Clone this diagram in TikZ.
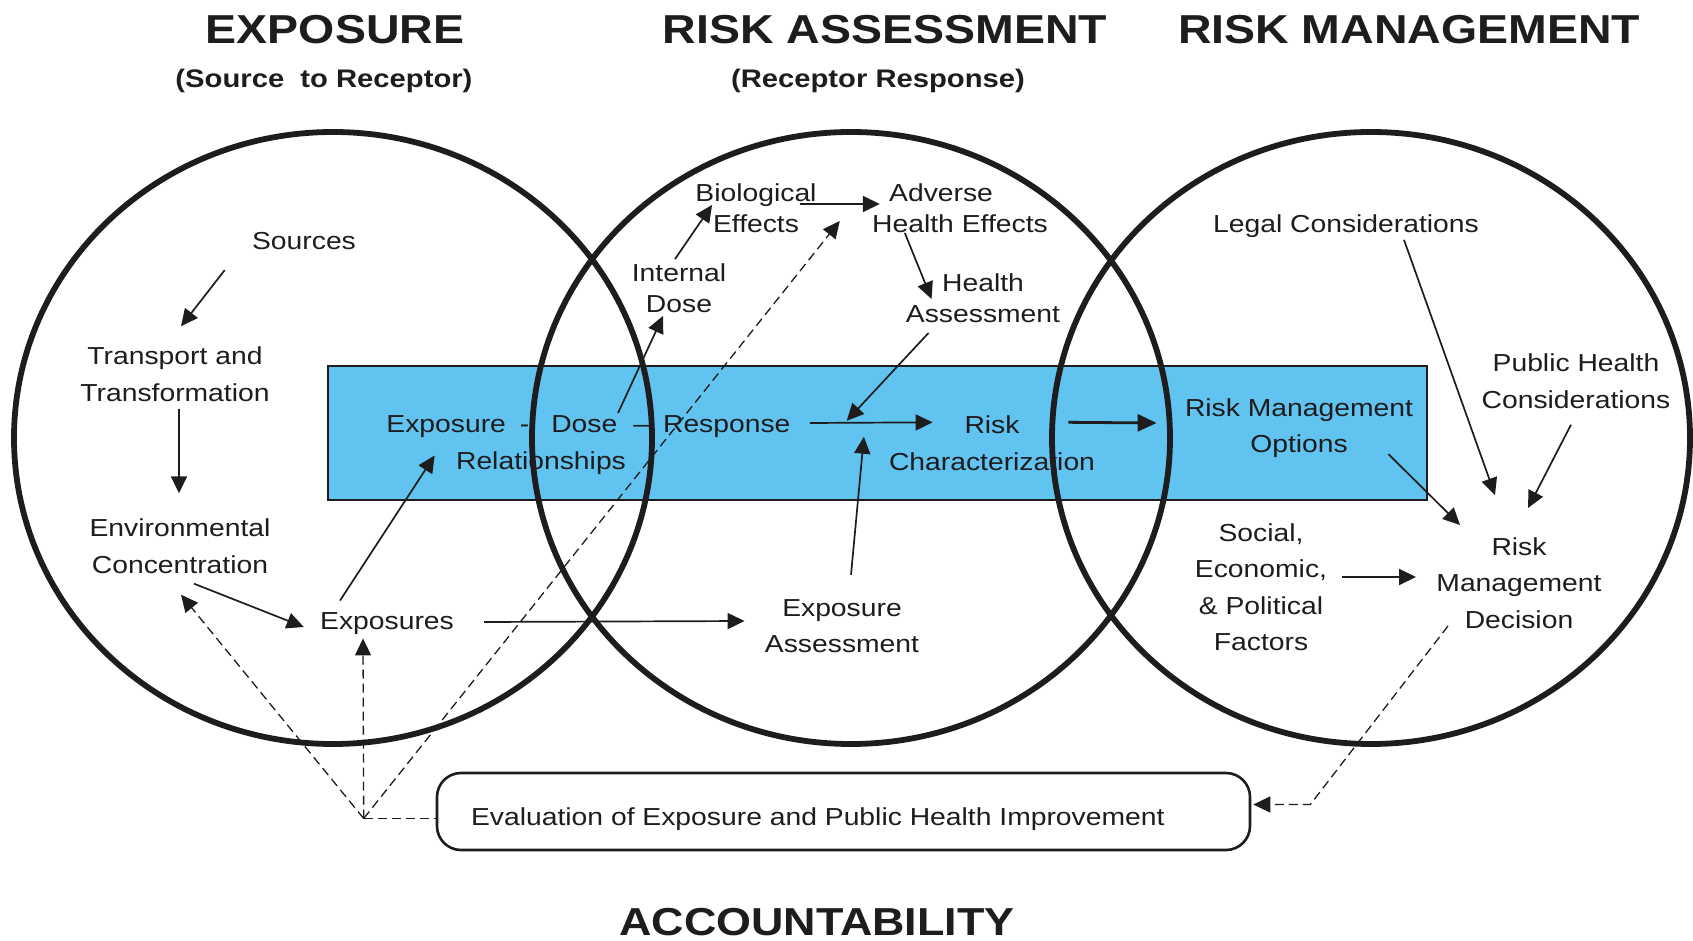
\documentclass[tikz,border=0pt]{standalone}
\usepackage{fontspec}
\newfontfamily\diagfont{Liberation Sans}[FakeStretch=1.15]
\usepackage{xcolor}
\usepackage{tikz}
\usetikzlibrary{arrows.meta, calc, positioning}

\definecolor{ink}{RGB}{30,28,29}
\definecolor{panel}{RGB}{96,195,240}

\tikzset{
  txt/.style={font=\diagfont\fontsize{12.3}{18.25}\selectfont, align=center, inner sep=0pt, text=ink},
  txtc/.style={txt, font=\diagfont\fontsize{12.3}{15.5}\selectfont},
  head/.style={font=\diagfont\bfseries\fontsize{20.2}{24}\selectfont, inner sep=0pt, text=ink},
  subhead/.style={font=\diagfont\bfseries\fontsize{12.7}{16}\selectfont, inner sep=0pt, text=ink},
  ring/.style={draw=ink, line width=2.9pt},
  flow/.style={->, draw=ink, line width=0.85pt},
  back/.style={->, draw=ink, line width=0.65pt, dash pattern=on 4.5pt off 2.5pt},
}

\begin{document}
\begin{tikzpicture}[x=0.5pt, y=-0.5pt, >={Triangle[length=8.5pt,width=8pt]}]

    \useasboundingbox (0,0) rectangle (1693,941);

    % =================================================================
    % 1. BLUE BAND AND THE THREE RINGS
    % =================================================================
    \fill[panel, draw=ink, line width=1.2pt] (328,366) rectangle (1427,500);

    \coordinate (cExp) at (333,438);
    \coordinate (cAss) at (851,438);
    \coordinate (cMan) at (1371,438);
    \draw[ring] (cExp) ellipse [x radius=319, y radius=306];
    \draw[ring] (cAss) ellipse [x radius=319, y radius=306];
    \draw[ring] (cMan) ellipse [x radius=319, y radius=306];

    % =================================================================
    % 2. HEADINGS
    % =================================================================
    \node[head] (tExp) at (335,30) {EXPOSURE};
    \node[subhead] (sExp) at (324,81) {(Source\ \ to Receptor)};
    \node[head] (tAss) at (885,30) {RISK ASSESSMENT};
    \node[subhead] (sAss) at (878,81) {(Receptor Response)};
    \node[head] (tMan) at (1409,30) {RISK MANAGEMENT};
    \node[head, font=\diagfont\bfseries\fontsize{19.5}{23}\selectfont] (tAcc) at (817,922) {ACCOUNTABILITY};

    % =================================================================
    % 3. LABELS
    % =================================================================
    % source to receptor
    \node[txt] (src) at (304,241) {Sources};
    \node[txt] (trans) at (175,374) {Transport and\\Transformation};
    \node[txt] (env) at (180,546) {Environmental\\Concentration};
    \node[txt] (expo) at (387,624) {Exposures};

    % receptor response
    \node[txt, anchor=west] (edr) at (386,426.5)
        {Exposure\hspace{7pt}-\hspace{11pt}Dose\hspace{8pt}\textendash\hspace{7pt}Response};
    \node[txt] (rel) at (541,463.5) {Relationships};
    \node[txtc] (idose) at (679,288) {Internal\\Dose};
    \node[txtc] (bio) at (756,208) {Biological\\Effects};
    \node[txtc, align=left] (adv) at (960,208) {\hspace*{8.5pt}Adverse\\Health Effects};
    \node[txtc] (hass) at (983,298) {Health\\Assessment};
    \node[txt] (riskc) at (992,443) {Risk\\Characterization};
    \node[txt] (expa) at (842,626) {Exposure\\Assessment};

    % management
    \node[txt] (legal) at (1346,226) {Legal Considerations};
    \node[txt] (pubh) at (1576,381) {Public Health\\Considerations};
    \node[txt] (rmo) at (1299,428) {Risk Management\\Options};
    \node[txt] (soc) at (1261,587) {Social,\\Economic,\\\& Political\\Factors};
    \node[txt] (rmd) at (1519,583) {Risk\\Management\\Decision};

    % evaluation box
    \node[draw=ink, line width=1.3pt, rounded corners=12pt,
          minimum width=406.5pt, minimum height=38.5pt, inner sep=0pt] (eval) at (843.5,811.5) {};
    \node[txt, anchor=west] (evaltxt) at ([shift={(35,8)}]eval.west)
        {Evaluation of Exposure and Public Health Improvement};

    % =================================================================
    % 4. SOLID ARROWS
    % =================================================================
    \draw[flow] ([shift={(-27,20)}]src.south west) -- ([shift={(6,-20)}]trans.north);
    \draw[flow] ([shift={(4,7)}]trans.south) -- ([shift={(-1,-25)}]env.north);
    \draw[flow] ([shift={(14,10)}]env.south) -- ([shift={(-16,3)}]expo.west);
    \draw[flow] ([shift={(-47,-12)}]expo.north) -- ([shift={(-21,-8)}]rel.west);
    \draw[flow] ([shift={(30,-2)}]expo.east) -- ([shift={(-20,-5)}]expa.west);

    \draw[flow] ([shift={(232,-2)}]edr.north west) -- ([shift={(-16,3)}]idose.south);
    \draw[flow] ([shift={(-4,-4)}]idose.north) -- ([shift={(17,-3)}]bio.west);
    \draw[flow] ([shift={(-17,-4)}]bio.east) -- ([shift={(8,-4)}]adv.west);
    \draw[flow] ([shift={(33,0)}]adv.south west) -- ([shift={(26,26)}]hass.north west);

    \draw[flow] ([shift={(19,-3.5)}]edr.east) --
        coordinate[pos=0.3] (rtop) coordinate[pos=0.44] (rbot)
        ([shift={(44,7)}]riskc.north west);
    \draw[flow] ([shift={(23,10)}]hass.south west) -- ([shift={(0,-2)}]rtop);
    \draw[flow] ([shift={(9,-24)}]expa.north) -- ([shift={(0,14)}]rbot);

    \draw[flow, line width=1.4pt, -{Triangle[length=9.5pt,width=8.5pt]}]
        ([shift={(-27,7)}]riskc.north east) -- ([shift={(-28,-5)}]rmo.west);

    \draw[flow] ([shift={(-25,-4)}]rmo.south east) -- ([shift={(24,-12)}]rmd.north west);
    \draw[flow] ([shift={(58,2)}]legal.south) -- ([shift={(-24,-42)}]rmd.north);
    \draw[flow] ([shift={(-5,16)}]pubh.south) -- ([shift={(9,-29)}]rmd.north);
    \draw[flow] ([shift={(15,-10)}]soc.east) -- ([shift={(-20,-6)}]rmd.west);

    % =================================================================
    % 5. DASHED FEEDBACK LINES
    % =================================================================
    \coordinate (hub) at ([shift={(-72,7)}]eval.west);
    \draw[back, -] (hub) -- (hub -| eval.west);
    \draw[back] (hub) -- ([shift={(1,21)}]env.south);
    \draw[back] (hub) -- ([shift={(-24,3)}]expo.south);
    \draw[back] (hub) -- ([shift={(-32,13)}]adv.west);
    \draw[back] ([shift={(12,-3)}]rmd.south west) -- ([shift={(59,-7)}]eval.east)
        -- ([shift={(2,-7)}]eval.east);

\end{tikzpicture}
\end{document}
